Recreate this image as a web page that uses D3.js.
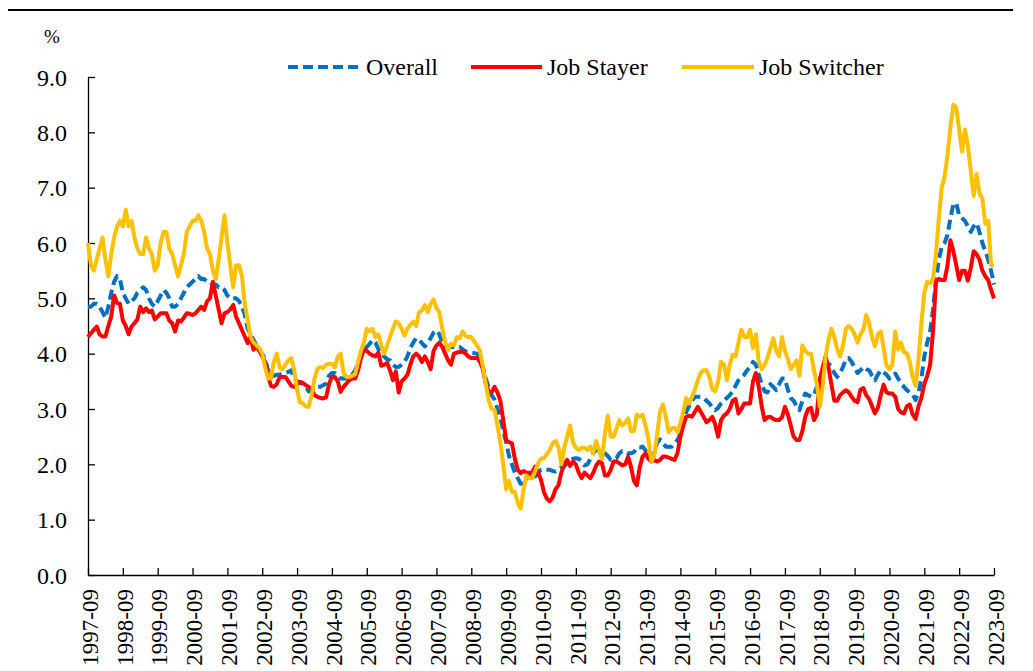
<!DOCTYPE html>
<html>
<head>
<meta charset="utf-8">
<script src="https://cdnjs.cloudflare.com/ajax/libs/d3/7.8.5/d3.min.js"></script>
<style>
  html, body { margin: 0; padding: 0; background: #fff; }
  svg { display: block; }
  text { font-family: "Liberation Serif", "Times New Roman", serif; fill: #000; }
</style>
</head>
<body>
<div id="chart"></div>
<script>
// ---------- DATA ----------
const tickLabels = ["1997-09","1998-09","1999-09","2000-09","2001-09","2002-09","2003-09","2004-09","2005-09","2006-09","2007-09","2008-09","2009-09","2010-09","2011-09","2012-09","2013-09","2014-09","2015-09","2016-09","2017-09","2018-09","2019-09","2020-09","2021-09","2022-09","2023-09"];
const yTicks = [0,1,2,3,4,5,6,7,8,9];
const seriesNames = ["Overall","Job Stayer","Job Switcher"];

// monthly categories 1997-09 .. 2023-09
const months = [];
for (let y = 1997, m = 9; y < 2023 || (y === 2023 && m <= 9); ) {
  months.push(y + "-" + String(m).padStart(2, "0"));
  m++; if (m > 12) { m = 1; y++; }
}

const overall = [
4.85,4.85,4.9,4.9,4.85,4.75,4.65,4.85,5.1,5.3,
5.4,5.35,5.1,5.0,4.9,4.95,5.0,5.1,5.15,5.2,
5.15,5.0,4.9,4.85,4.95,5.05,5.15,5.1,5.0,4.85,
4.85,4.9,5.0,5.1,5.2,5.25,5.3,5.35,5.4,5.35,
5.35,5.3,5.3,5.25,5.25,5.2,5.2,5.15,5.05,5.0,
5.0,5.0,4.95,4.85,4.7,4.45,4.35,4.25,4.15,4.05,
4.0,3.9,3.7,3.6,3.6,3.62,3.62,3.64,3.65,3.67,
3.7,3.55,3.5,3.47,3.45,3.4,3.32,3.35,3.4,3.4,
3.4,3.43,3.46,3.6,3.65,3.65,3.6,3.55,3.55,3.55,
3.55,3.62,3.7,3.82,4.0,4.07,4.12,4.18,4.25,4.2,
4.08,4.0,3.95,3.9,3.88,3.8,3.76,3.76,3.8,3.85,
3.95,4.1,4.2,4.28,4.25,4.19,4.13,4.2,4.28,4.38,
4.42,4.35,4.2,4.13,4.13,4.12,4.12,4.13,4.12,4.08,
4.04,4.03,4.02,4.01,4.0,3.9,3.75,3.55,3.38,3.25,
3.17,3.0,2.85,2.6,2.4,2.15,2.0,1.85,1.75,1.65,
1.65,1.75,1.85,1.78,1.78,1.85,1.9,1.9,1.9,1.9,
1.88,1.87,1.9,1.94,1.96,2.02,2.08,2.1,2.11,2.1,
2.05,1.98,2.0,2.1,2.2,2.26,2.25,2.22,2.2,2.15,
2.08,2.1,2.11,2.2,2.24,2.22,2.2,2.2,2.22,2.3,
2.3,2.32,2.25,2.15,2.12,2.2,2.4,2.45,2.38,2.32,
2.32,2.32,2.38,2.44,2.55,2.75,2.95,3.05,3.15,3.22,
3.22,3.22,3.2,3.15,3.1,3.02,2.98,3.02,3.1,3.15,
3.2,3.25,3.32,3.42,3.52,3.57,3.62,3.7,3.76,3.85,
3.8,3.62,3.45,3.32,3.3,3.45,3.4,3.34,3.45,3.55,
3.55,3.35,3.2,3.15,3.05,2.98,3.15,3.28,3.25,3.22,
3.25,3.4,3.52,3.7,3.85,3.82,3.76,3.65,3.58,3.65,
3.76,3.9,3.92,3.85,3.75,3.65,3.7,3.76,3.72,3.7,
3.6,3.52,3.62,3.7,3.66,3.62,3.55,3.58,3.64,3.55,
3.46,3.4,3.34,3.3,3.26,3.16,3.3,3.55,3.95,4.2,
4.4,4.8,5.3,5.7,5.93,6.0,6.15,6.45,6.7,6.72,
6.5,6.45,6.4,6.3,6.2,6.3,6.36,6.2,6.0,5.85,
5.7,5.5,5.25];

const jobStayer = [
4.3,4.37,4.43,4.49,4.35,4.31,4.31,4.5,4.67,5.05,
4.92,4.9,4.6,4.5,4.35,4.49,4.55,4.62,4.85,4.75,
4.82,4.75,4.78,4.62,4.67,4.73,4.73,4.73,4.6,4.55,
4.4,4.6,4.58,4.65,4.73,4.72,4.7,4.73,4.79,4.85,
4.79,4.95,5.0,5.3,5.05,4.8,4.55,4.73,4.75,4.8,
4.88,4.67,4.55,4.43,4.31,4.19,4.31,4.07,4.13,4.05,
3.95,3.85,3.6,3.42,3.4,3.45,3.58,3.58,3.58,3.5,
3.42,3.4,3.45,3.49,3.47,3.43,3.4,3.35,3.25,3.22,
3.2,3.19,3.21,3.45,3.58,3.58,3.5,3.31,3.4,3.46,
3.52,3.55,3.55,3.7,3.92,4.07,4.05,4.0,3.97,3.95,
4.02,3.78,3.8,3.83,3.7,3.52,3.68,3.3,3.5,3.55,
3.62,3.8,3.95,4.0,3.95,3.85,3.95,3.85,3.72,4.05,
4.15,4.2,4.12,4.0,3.88,3.8,4.0,4.02,4.03,4.04,
4.0,3.95,3.92,3.92,3.92,3.85,3.72,3.45,3.32,3.3,
3.4,3.3,3.15,2.8,2.44,2.4,2.38,2.1,1.9,1.84,
1.88,1.85,1.82,1.86,1.96,1.85,1.72,1.5,1.38,1.33,
1.4,1.55,1.62,1.85,2.0,2.08,1.97,2.05,2.0,1.85,
1.75,1.85,1.8,1.75,1.85,1.98,2.05,2.02,1.8,1.8,
1.9,2.05,2.05,2.02,1.98,2.0,2.14,1.95,1.7,1.62,
1.95,2.14,2.2,2.1,2.05,2.08,2.05,2.08,2.14,2.14,
2.12,2.1,2.08,2.2,2.5,2.7,2.86,2.88,2.86,2.95,
3.04,2.95,2.86,2.76,2.8,2.86,2.72,2.5,2.8,2.88,
2.92,3.0,3.15,3.18,2.92,3.0,3.1,3.1,3.1,3.5,
3.65,3.4,3.05,2.8,2.85,2.86,2.82,2.8,2.8,2.85,
3.04,2.9,2.7,2.5,2.44,2.44,2.6,2.86,3.0,3.02,
2.8,2.9,3.52,3.75,3.95,3.75,3.45,3.15,3.15,3.25,
3.3,3.34,3.3,3.22,3.15,3.12,3.35,3.38,3.25,3.18,
3.05,2.92,3.02,3.25,3.44,3.3,3.28,3.28,3.22,3.0,
2.94,2.92,3.05,3.08,2.9,2.82,3.05,3.2,3.45,3.6,
3.8,4.4,5.3,5.35,5.33,5.33,5.6,6.05,5.85,5.6,
5.33,5.5,5.5,5.32,5.55,5.85,5.8,5.7,5.5,5.4,
5.33,5.15,5.0];

const jobSwitcher = [
6.0,5.6,5.5,5.7,5.9,6.1,5.7,5.4,5.8,6.1,
6.3,6.4,6.3,6.6,6.3,6.4,6.1,5.9,5.8,5.8,
6.1,5.9,5.8,5.5,5.6,6.0,6.2,6.2,5.9,5.8,
5.6,5.4,5.6,5.8,6.2,6.3,6.4,6.4,6.5,6.4,
6.2,5.9,5.8,5.5,5.35,5.7,6.1,6.5,6.0,5.6,
5.2,5.6,5.6,5.4,4.9,4.6,4.3,4.2,4.15,4.1,
4.0,3.75,3.55,3.55,3.85,4.0,3.75,3.72,3.8,3.88,
3.92,3.7,3.35,3.12,3.1,3.05,3.04,3.25,3.55,3.72,
3.76,3.74,3.8,3.82,3.82,3.75,3.95,4.0,3.65,3.58,
3.58,3.6,3.63,3.85,4.05,4.2,4.45,4.4,4.45,4.3,
4.35,4.15,4.0,4.15,4.3,4.45,4.58,4.55,4.45,4.33,
4.45,4.52,4.58,4.5,4.75,4.78,4.88,4.75,4.9,4.98,
4.82,4.75,4.45,4.2,4.07,4.18,4.15,4.3,4.28,4.4,
4.32,4.3,4.3,4.22,4.15,4.05,3.76,3.45,3.15,3.0,
2.98,2.7,2.4,2.0,1.55,1.7,1.5,1.5,1.3,1.2,
1.55,1.8,1.75,1.75,1.88,2.02,2.1,2.11,2.18,2.26,
2.38,2.42,2.32,2.0,2.3,2.5,2.7,2.4,2.3,2.26,
2.3,2.3,2.26,2.32,2.2,2.42,2.25,2.1,2.55,2.88,
2.5,2.5,2.65,2.8,2.7,2.75,2.83,2.6,2.6,2.9,
2.86,2.9,2.7,2.45,2.05,2.15,2.55,2.95,3.08,2.85,
2.58,2.65,2.66,2.58,2.75,2.95,3.2,3.1,3.22,3.35,
3.52,3.65,3.7,3.7,3.58,3.35,3.32,3.5,3.85,3.8,
3.52,3.8,3.98,3.95,4.2,4.43,4.3,4.3,4.43,4.1,
4.35,3.85,3.72,3.8,3.92,4.1,4.28,4.05,3.95,4.3,
4.05,3.9,3.72,3.8,3.88,3.6,4.15,4.05,4.0,4.0,
3.7,3.45,3.04,3.4,3.95,4.25,4.45,4.3,4.08,3.95,
4.15,4.45,4.5,4.45,4.35,4.2,4.35,4.43,4.7,4.55,
4.3,4.13,4.35,4.4,4.1,3.78,3.72,3.8,4.4,4.07,
4.2,4.02,4.01,3.85,3.58,3.42,3.9,4.55,5.1,5.3,
5.27,5.35,5.8,6.45,7.0,7.2,7.6,8.1,8.5,8.45,
8.05,7.65,8.05,7.75,7.3,6.85,7.25,6.9,6.8,6.35,
6.4,5.6,5.6];

// ---------- CHART ----------
const W = 1033, H = 671;
const svg = d3.select("#chart").append("svg").attr("width", W).attr("height", H);
svg.append("rect").attr("width", W).attr("height", H).attr("fill", "#fff");

// top rule
svg.append("line").attr("x1", 8).attr("x2", 1013).attr("y1", 10).attr("y2", 10)
  .attr("stroke", "#000").attr("stroke-width", 2.2);

const x = d3.scaleLinear().domain([0, months.length - 1]).range([88, 994]);
const y = d3.scaleLinear().domain([0, 9]).range([575, 77]);

// y axis
const yAxis = svg.append("g").attr("transform", "translate(88,0)")
  .call(d3.axisLeft(y).tickValues(yTicks).tickFormat(d3.format(".1f"))
    .tickSizeInner(-7).tickSizeOuter(0).tickPadding(21));
yAxis.selectAll("text").style("font-size", "24px").attr("dy", "0.34em");

// x axis
const tickIdx = tickLabels.map(l => months.indexOf(l));
const xAxis = svg.append("g").attr("transform", "translate(0,575)")
  .call(d3.axisBottom(x).tickValues(tickIdx).tickFormat(i => months[i])
    .tickSizeInner(-7).tickSizeOuter(0));
xAxis.selectAll("text")
  .style("font-size", "23px")
  .attr("text-anchor", "end")
  .attr("transform", "rotate(-90)")
  .attr("x", -14).attr("y", 0).attr("dy", "0.4em");

svg.selectAll(".domain").attr("stroke", "#000").attr("stroke-width", 1.3);
svg.selectAll(".tick line").attr("stroke", "#000").attr("stroke-width", 1.3);

// "%" label
svg.append("text").attr("x", 44).attr("y", 43).style("font-size", "19px").text("%");

// series
const colors = ["#0070C0", "#FF0000", "#FFC000"];
const dashes = ["10,5", null, null];
const allSeries = [overall, jobStayer, jobSwitcher];
const line = d3.line().x((d, i) => x(i)).y(d => y(d));

allSeries.forEach((s, k) => {
  svg.append("path").datum(s)
    .attr("d", line)
    .attr("fill", "none")
    .attr("stroke", colors[k])
    .attr("stroke-width", 4)
    .attr("stroke-linejoin", "round")
    .attr("stroke-dasharray", dashes[k]);
});

// legend
const legendItems = [
  { x1: 288, x2: 358, tx: 366 },
  { x1: 471, x2: 542, tx: 547 },
  { x1: 682, x2: 754, tx: 759 }
];
const lg = svg.append("g");
legendItems.forEach((it, k) => {
  lg.append("line").attr("x1", it.x1).attr("x2", it.x2).attr("y1", 67).attr("y2", 67)
    .attr("stroke", colors[k]).attr("stroke-width", 4)
    .attr("stroke-dasharray", dashes[k]);
  lg.append("text").attr("x", it.tx).attr("y", 75).style("font-size", "24px").text(seriesNames[k]);
});
</script>
</body>
</html>
